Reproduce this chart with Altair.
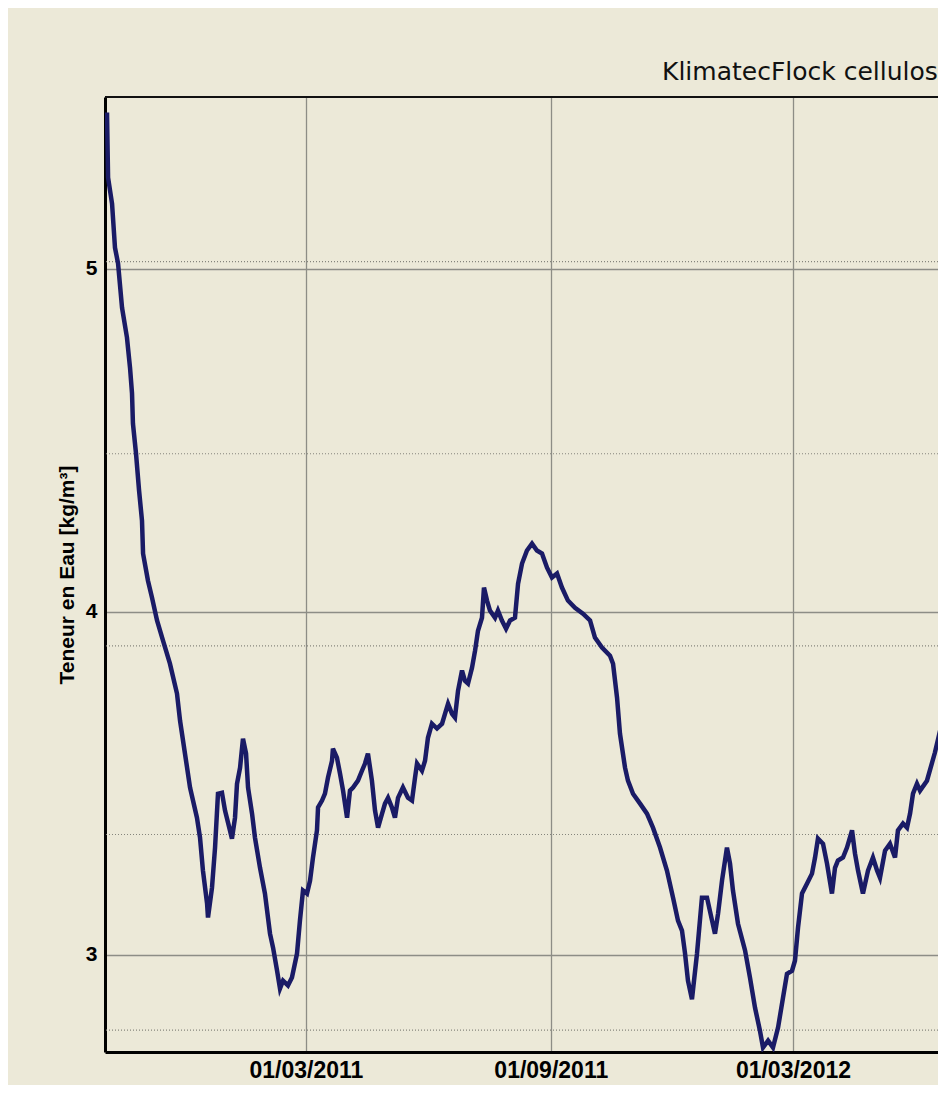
import altair as alt
import pandas as pd

# ---- data ----
start_date = "2010-10-01"
day_offsets = [1.5, 2.3, 5.3, 7.5, 9.8, 12.8, 16.5, 18.8, 20.3, 21.0,
    23.3, 25.6, 27.8, 28.6, 32.3, 35.3, 39.1, 43.6, 48.8, 54.1,
    56.4, 60.1, 63.9, 69.1, 71.4, 73.6, 76.7, 77.4, 80.4, 82.7,
    84.9, 87.9, 90.2, 93.9, 95.4, 97.7, 99.2, 101.5, 103.7, 106.0,
    107.5, 110.5, 112.7, 116.5, 120.2, 124.0, 126.3, 129.3, 131.5, 133.8,
    137.5, 140.5, 144.3, 146.5, 148.8, 151.8, 154.1, 156.3, 159.3, 160.1,
    163.1, 165.3, 167.6, 170.6, 171.3, 174.3, 176.6, 178.9, 181.9, 184.1,
    186.4, 190.1, 193.1, 195.4, 197.6, 200.6, 202.9, 205.2, 208.2, 210.4,
    212.7, 215.7, 217.9, 220.2, 223.9, 227.7, 230.7, 233.0, 234.5, 238.2,
    240.5, 242.7, 245.7, 249.5, 253.3, 255.5, 257.8, 260.8, 263.0, 265.3,
    268.3, 270.5, 272.8, 275.8, 278.1, 280.3, 283.3, 284.8, 287.1, 289.3,
    293.1, 295.3, 298.3, 301.4, 304.4, 308.1, 310.4, 313.4, 317.1, 320.9,
    324.6, 328.4, 332.2, 335.9, 339.7, 343.4, 347.9, 353.2, 359.2, 364.5,
    368.2, 373.5, 379.5, 381.8, 384.8, 387.0, 390.8, 393.0, 396.8, 402.1,
    407.3, 411.8, 417.1, 422.3, 426.9, 430.6, 433.6, 435.9, 438.1, 441.1,
    444.9, 448.6, 452.4, 456.2, 458.4, 460.7, 463.7, 467.4, 469.7, 471.9,
    475.7, 481.0, 484.7, 488.5, 492.2, 494.5, 498.3, 502.0, 505.8, 509.5,
    512.5, 516.3, 518.5, 520.8, 523.8, 527.6, 531.3, 533.6, 535.8, 539.6,
    542.6, 546.3, 548.6, 550.8, 554.6, 557.6, 561.4, 563.6, 565.9, 569.6,
    573.4, 577.1, 580.2, 582.4, 586.2, 589.9, 593.7, 595.9, 599.7, 602.7,
    605.0, 607.2, 610.2, 612.5, 617.7, 623.7, 632.0]

teneur_en_eau = [5.455, 5.265, 5.189, 5.061, 5.015, 4.886, 4.799, 4.711, 4.636, 4.548,
    4.461, 4.353, 4.265, 4.169, 4.090, 4.041, 3.974, 3.915, 3.848, 3.761,
    3.682, 3.586, 3.487, 3.399, 3.341, 3.245, 3.149, 3.108, 3.195, 3.312,
    3.469, 3.472, 3.420, 3.362, 3.338, 3.399, 3.498, 3.545, 3.629, 3.586,
    3.487, 3.411, 3.341, 3.253, 3.178, 3.061, 3.020, 2.953, 2.901, 2.924,
    2.910, 2.933, 3.003, 3.099, 3.187, 3.178, 3.216, 3.283, 3.362, 3.429,
    3.449, 3.469, 3.516, 3.565, 3.600, 3.574, 3.528, 3.478, 3.399, 3.478,
    3.487, 3.507, 3.536, 3.557, 3.586, 3.507, 3.420, 3.370, 3.411, 3.440,
    3.457, 3.428, 3.399, 3.457, 3.487, 3.457, 3.449, 3.516, 3.557, 3.536,
    3.565, 3.632, 3.673, 3.659, 3.673, 3.702, 3.731, 3.702, 3.691, 3.769,
    3.828, 3.798, 3.790, 3.836, 3.886, 3.944, 3.982, 4.070, 4.032, 4.003,
    3.982, 4.003, 3.974, 3.950, 3.974, 3.982, 4.081, 4.140, 4.178, 4.198,
    4.178, 4.169, 4.128, 4.099, 4.111, 4.070, 4.032, 4.011, 3.994, 3.974,
    3.924, 3.895, 3.871, 3.848, 3.749, 3.644, 3.545, 3.507, 3.469, 3.440,
    3.411, 3.370, 3.312, 3.245, 3.166, 3.099, 3.070, 3.003, 2.924, 2.870,
    3.003, 3.166, 3.166, 3.099, 3.061, 3.119, 3.216, 3.312, 3.265, 3.187,
    3.090, 3.012, 2.933, 2.845, 2.778, 2.729, 2.749, 2.729, 2.787, 2.874,
    2.944, 2.953, 2.982, 3.078, 3.178, 3.207, 3.236, 3.283, 3.338, 3.323,
    3.265, 3.178, 3.253, 3.274, 3.283, 3.312, 3.362, 3.295, 3.245, 3.178,
    3.245, 3.283, 3.245, 3.224, 3.303, 3.323, 3.283, 3.362, 3.382, 3.370,
    3.411, 3.469, 3.498, 3.478, 3.507, 3.589, 3.726]

# dotted grid of the (off-screen) secondary axis, expressed in kg/m3
secondary_grid_levels = [5.02, 4.46, 3.90, 3.35, 2.78]
y_tick_values = [3, 4, 5]
x_tick_dates = [(2011, 3, 1), (2011, 9, 1), (2012, 3, 1)]
x_domain = [(2010, 10, 1), (2012, 6, 18)]
y_domain = [2.716, 5.5]

# ---- build tables ----
dates = pd.Timestamp(start_date) + pd.to_timedelta(day_offsets, unit="D")
df = pd.DataFrame({"date": dates, "teneur": teneur_en_eau})
grid_df = pd.DataFrame({"niveau": secondary_grid_levels})
frame_df = pd.DataFrame({"k": [0]})

def dt(t):
    return alt.DateTime(year=t[0], month=t[1], date=t[2])

W, H = 833, 955
BG = "#ECE9D8"
FONT = "Liberation Sans"
Y_TITLE = "Teneur en Eau [kg/m³]"

x_scale = alt.Scale(domain=[dt(d) for d in x_domain])
y_scale = alt.Scale(domain=y_domain, nice=False, zero=False)

y_axis = alt.Axis(values=y_tick_values, format="d",
                  title=Y_TITLE, titleFont=FONT,
                  titleFontSize=21, titleFontWeight="bold", titleColor="black",
                  titleX=-38, titleY=H / 2, titleAngle=270,
                  titleAlign="center", titleBaseline="middle",
                  grid=True, gridColor="#8d8d86", gridWidth=1.3,
                  domainColor="black", domainWidth=3, ticks=False,
                  labelFont=FONT, labelFontSize=21, labelFontWeight="bold",
                  labelColor="black", labelPadding=8)

x_axis = alt.Axis(values=[dt(d) for d in x_tick_dates], format="%d/%m/%Y",
                  title=None, grid=True, gridColor="#8d8d86", gridWidth=1.3,
                  domainColor="black", domainWidth=3, ticks=False,
                  labelFont=FONT, labelFontSize=23, labelFontWeight="bold",
                  labelColor="black", labelPadding=7)

dotted = alt.Chart(grid_df).mark_rule(
    color="#85857c", strokeWidth=1.2, strokeDash=[1, 2]
).encode(y=alt.Y("niveau:Q", scale=y_scale, axis=y_axis, title=Y_TITLE))

line = alt.Chart(df).mark_line(
    color="#1a1b66", strokeWidth=4.5, clip=True
).encode(
    x=alt.X("date:T", scale=x_scale, axis=x_axis),
    y=alt.Y("teneur:Q", scale=y_scale, axis=y_axis, title=Y_TITLE),
)

top_border = alt.Chart(frame_df).mark_rule(color="#111111", strokeWidth=2).encode(
    x=alt.value(0), x2=alt.value(W), y=alt.value(0)
)

chart = alt.layer(dotted, line, top_border).properties(
    width=W, height=H,
    title=alt.TitleParams(text="KlimatecFlock cellulose", anchor="start", frame="group",
                          dx=557, dy=26,
                          font="DejaVu Sans", fontSize=25, fontWeight="normal",
                          color="#111111", baseline="alphabetic", offset=17),
    background=BG,
    padding={"left": 97, "top": 89, "right": 0, "bottom": 33},
    autosize=alt.AutoSizeParams(type="none"),
).configure_view(stroke=None, fill=BG)

chart.save("out.html", embed_options={"renderer": "svg", "actions": False})
